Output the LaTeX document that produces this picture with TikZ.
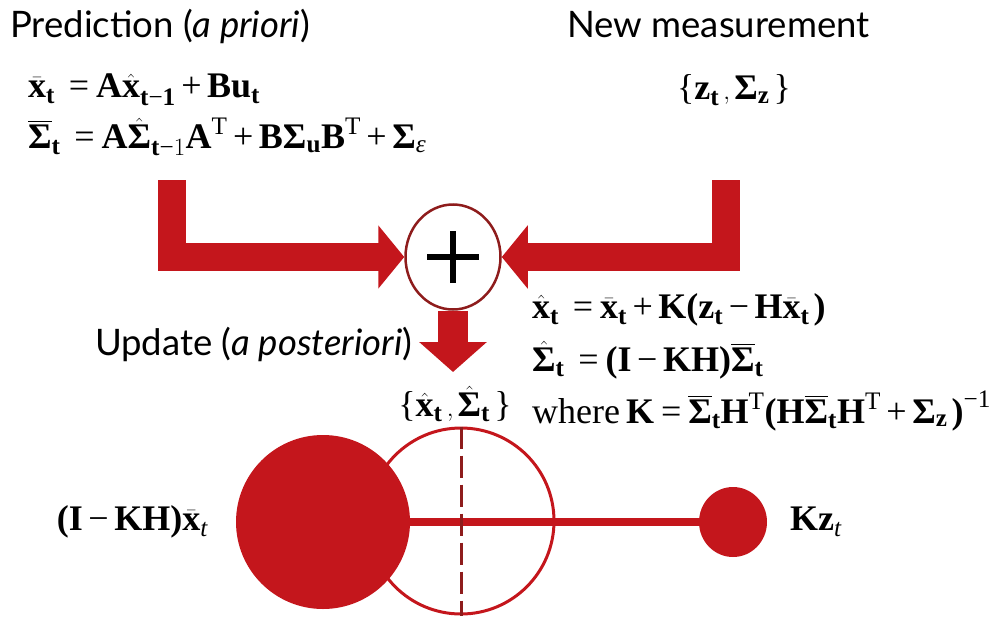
\documentclass[tikz,border=0pt]{standalone}
\usepackage{amsmath}
\usepackage{fontspec}
\setmainfont{Liberation Serif}
\newfontfamily\titlefont{Lato}
\usetikzlibrary{arrows.meta,shapes.geometric}
\definecolor{kred}{HTML}{C4161C}
\definecolor{kdark}{HTML}{8E1C1C}
\newcommand\tb[1]{\text{\bfseries #1}}
\newcommand\Eq{\;\mathrel{\text{=}}}
\newcommand\Pl{\mathbin{\text{+}}}
\newcommand\Mi{\mathbin{\text{−}}}
\newcommand\Lb{\text{\{}}
\newcommand\Rb{\text{\}}}
\begin{document}
\begin{tikzpicture}[x=1pt,y=-1pt,
  title/.style={font=\titlefont\fontsize{36.5}{42}\selectfont, inner sep=0pt},
  eq/.style={font=\fontsize{36}{40}\selectfont, inner sep=0pt},
  bigarrow/.style={kred, line width=28pt, line join=miter, -{Triangle[width=62pt,length=26pt]}},
  ]
\useasboundingbox (0,0) rectangle (1001,618);
% titles
\node[title, anchor=base west] (tpred) at (10,38) {Prediction (\textit{a priori})};
\node[title, anchor=base west] (tmeas) at (567,38) {New measurement};
\node[title, anchor=base west] (tupd) at (95,355) {Update (\textit{a posteriori})};
% prediction equations
\node[eq, anchor=west] (e1) at (28,90) {$\bar{\tb{x}}_{\tb{t}} \Eq \tb{A}\hat{\tb{x}}_{\tb{t}\text{−}\tb{1}} \Pl \tb{Bu}_{\tb{t}}$};
\node[eq, anchor=west] (e2) at (28,137) {$\overline{\tb{Σ}}_{\tb{t}} \Eq \tb{A}\hat{\tb{Σ}}_{\tb{t}\text{−}1}\tb{A}^{\text{T}} \Pl \tb{B}\tb{Σ}_{\tb{u}}\tb{B}^{\text{T}} \Pl \tb{Σ}_{\text{\itshape ε}}$};
\node[eq] (zm) at (734,90) {$\Lb\tb{z}_{\tb{t}}\,, \tb{Σ}_{\tb{z}}\,\Rb$};
% update equations
\node[eq, anchor=west] (e3) at (532,310) {$\hat{\tb{x}}_{\tb{t}} \Eq \bar{\tb{x}}_{\tb{t}} \Pl \tb{K}\tb{(}\tb{z}_{\tb{t}} \Mi \tb{H}\bar{\tb{x}}_{\tb{t}}\,\tb{)}$};
\node[eq, anchor=west] (e4) at (532,360) {$\hat{\tb{Σ}}_{\tb{t}} \Eq \tb{(I} \Mi \tb{KH)}\overline{\tb{Σ}}_{\tb{t}}$};
\node[eq, anchor=west] (e5) at (532,411) {where\,$\tb{K} \mathrel{\text{=}} \overline{\tb{Σ}}_{\tb{t}}\tb{H}^{\text{T}}\tb{(}\tb{H}\overline{\tb{Σ}}_{\tb{t}}\tb{H}^{\text{T}} \Pl \tb{Σ}_{\tb{z}}\,\tb{)}^{\text{−1}}$};
% sum node
\node[ellipse, draw=kdark, line width=2.5pt, fill=white, minimum width=95pt, minimum height=105pt] (plus) at (453,257) {};
\draw[line width=5.5pt] ([xshift=-26pt]plus.center) -- ([xshift=26pt]plus.center);
\draw[line width=5.5pt] ([yshift=-26pt]plus.center) -- ([yshift=26pt]plus.center);
\coordinate (pstart) at (172,180);
\coordinate (mstart) at (726,180);
\coordinate (dend) at (453,372);
\draw[bigarrow] (pstart) |- (plus.west);
\draw[bigarrow] (mstart) |- (plus.east);
\draw[kred, line width=30pt, -{Triangle[width=66pt,length=30pt]}] (plus.south) -- (dend);
% posterior label
\node[eq] (post) at (455,404) {$\Lb\hat{\tb{x}}_{\tb{t}}\,, \hat{\tb{Σ}}_{\tb{t}}\,\Rb$};
% bottom circles
\node[circle, draw=kred, line width=3pt, minimum size=186pt, inner sep=0pt] (outc) at (461,521) {};
\node[circle, fill=kred, minimum size=174pt, inner sep=0pt] (bigc) at (323,522) {};
\node[ellipse, fill=kred, minimum width=68pt, minimum height=70pt, inner sep=0pt] (smallc) at (733,522) {};
\draw[kred, line width=8pt] (bigc.east) -- (smallc.west);
\draw[kdark, line width=3pt, dash pattern=on 22pt off 7pt] (outc.north) -- (outc.south);
\node[eq, anchor=east] (lab1) at (208,522) {$\tb{(I} \Mi \tb{KH)}\bar{\tb{x}}_{\text{\itshape t}}$};
\node[eq, anchor=west] (lab2) at (790,522) {$\tb{Kz}_{\text{\itshape t}}$};
\end{tikzpicture}
\end{document}
